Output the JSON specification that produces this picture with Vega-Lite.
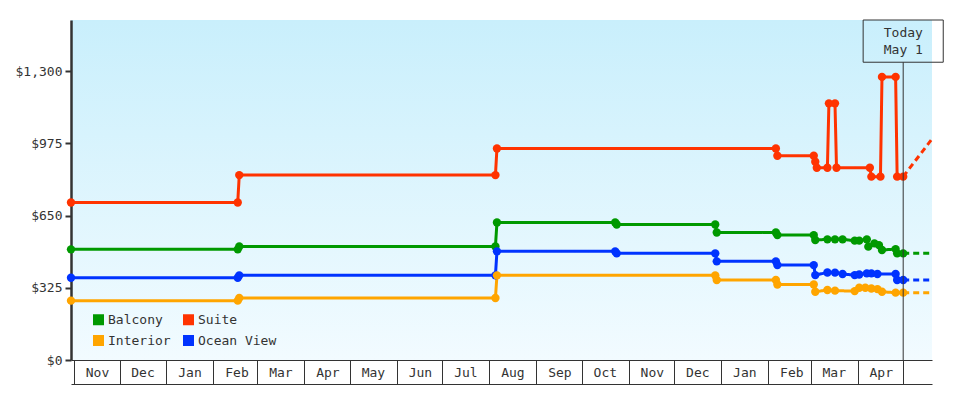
{
  "$schema": "https://vega.github.io/schema/vega-lite/v6.json",
  "autosize": "none",
  "width": 861,
  "height": 340,
  "padding": {"left": 71, "top": 20, "right": 48, "bottom": 40},
  "background": "#ffffff",
  "config": {
    "font": "DejaVu Sans Mono",
    "view": {
      "stroke": null,
      "fill": {
        "gradient": "linear",
        "x1": 0, "y1": 0, "x2": 0, "y2": 1,
        "stops": [
          {"offset": 0, "color": "#c9effc"},
          {"offset": 1, "color": "#f2fbff"}
        ]
      }
    },
    "axis": {
      "labelFont": "DejaVu Sans Mono",
      "labelFontSize": 13,
      "labelColor": "#333333",
      "grid": false,
      "domainColor": "#333333",
      "tickColor": "#333333"
    }
  },
  "datasets": {
    "prices": [
      {"cabin": "Suite", "date": "2023-10-30", "price": 709, "series": "actual"},
      {"cabin": "Suite", "date": "2024-02-17", "price": 709, "series": "actual"},
      {"cabin": "Suite", "date": "2024-02-18", "price": 832, "series": "actual"},
      {"cabin": "Suite", "date": "2024-08-05", "price": 832, "series": "actual"},
      {"cabin": "Suite", "date": "2024-08-06", "price": 952, "series": "actual"},
      {"cabin": "Suite", "date": "2025-02-06", "price": 952, "series": "actual"},
      {"cabin": "Suite", "date": "2025-02-07", "price": 919, "series": "actual"},
      {"cabin": "Suite", "date": "2025-03-03", "price": 919, "series": "actual"},
      {"cabin": "Suite", "date": "2025-03-04", "price": 892, "series": "actual"},
      {"cabin": "Suite", "date": "2025-03-05", "price": 865, "series": "actual"},
      {"cabin": "Suite", "date": "2025-03-12", "price": 865, "series": "actual"},
      {"cabin": "Suite", "date": "2025-03-13", "price": 1155, "series": "actual"},
      {"cabin": "Suite", "date": "2025-03-17", "price": 1155, "series": "actual"},
      {"cabin": "Suite", "date": "2025-03-18", "price": 865, "series": "actual"},
      {"cabin": "Suite", "date": "2025-04-09", "price": 865, "series": "actual"},
      {"cabin": "Suite", "date": "2025-04-10", "price": 825, "series": "actual"},
      {"cabin": "Suite", "date": "2025-04-16", "price": 825, "series": "actual"},
      {"cabin": "Suite", "date": "2025-04-17", "price": 1274, "series": "actual"},
      {"cabin": "Suite", "date": "2025-04-26", "price": 1274, "series": "actual"},
      {"cabin": "Suite", "date": "2025-04-27", "price": 825, "series": "actual"},
      {"cabin": "Suite", "date": "2025-05-01", "price": 825, "series": "actual"},
      {"cabin": "Suite", "date": "2025-05-01", "price": 825, "series": "forecast"},
      {"cabin": "Suite", "date": "2025-05-20", "price": 995, "series": "forecast"},

      {"cabin": "Balcony", "date": "2023-10-30", "price": 498, "series": "actual"},
      {"cabin": "Balcony", "date": "2024-02-17", "price": 498, "series": "actual"},
      {"cabin": "Balcony", "date": "2024-02-18", "price": 511, "series": "actual"},
      {"cabin": "Balcony", "date": "2024-08-05", "price": 511, "series": "actual"},
      {"cabin": "Balcony", "date": "2024-08-06", "price": 619, "series": "actual"},
      {"cabin": "Balcony", "date": "2024-10-23", "price": 619, "series": "actual"},
      {"cabin": "Balcony", "date": "2024-10-24", "price": 610, "series": "actual"},
      {"cabin": "Balcony", "date": "2024-12-28", "price": 610, "series": "actual"},
      {"cabin": "Balcony", "date": "2024-12-29", "price": 574, "series": "actual"},
      {"cabin": "Balcony", "date": "2025-02-06", "price": 574, "series": "actual"},
      {"cabin": "Balcony", "date": "2025-02-07", "price": 562, "series": "actual"},
      {"cabin": "Balcony", "date": "2025-03-03", "price": 562, "series": "actual"},
      {"cabin": "Balcony", "date": "2025-03-04", "price": 540, "series": "actual"},
      {"cabin": "Balcony", "date": "2025-03-12", "price": 543, "series": "actual"},
      {"cabin": "Balcony", "date": "2025-03-17", "price": 543, "series": "actual"},
      {"cabin": "Balcony", "date": "2025-03-22", "price": 543, "series": "actual"},
      {"cabin": "Balcony", "date": "2025-03-30", "price": 537, "series": "actual"},
      {"cabin": "Balcony", "date": "2025-04-02", "price": 537, "series": "actual"},
      {"cabin": "Balcony", "date": "2025-04-07", "price": 543, "series": "actual"},
      {"cabin": "Balcony", "date": "2025-04-08", "price": 510, "series": "actual"},
      {"cabin": "Balcony", "date": "2025-04-12", "price": 525, "series": "actual"},
      {"cabin": "Balcony", "date": "2025-04-15", "price": 517, "series": "actual"},
      {"cabin": "Balcony", "date": "2025-04-17", "price": 495, "series": "actual"},
      {"cabin": "Balcony", "date": "2025-04-26", "price": 499, "series": "actual"},
      {"cabin": "Balcony", "date": "2025-04-27", "price": 480, "series": "actual"},
      {"cabin": "Balcony", "date": "2025-05-01", "price": 480, "series": "actual"},
      {"cabin": "Balcony", "date": "2025-05-01", "price": 480, "series": "forecast"},
      {"cabin": "Balcony", "date": "2025-05-20", "price": 480, "series": "forecast"},

      {"cabin": "Ocean View", "date": "2023-10-30", "price": 370, "series": "actual"},
      {"cabin": "Ocean View", "date": "2024-02-17", "price": 370, "series": "actual"},
      {"cabin": "Ocean View", "date": "2024-02-18", "price": 381, "series": "actual"},
      {"cabin": "Ocean View", "date": "2024-08-05", "price": 381, "series": "actual"},
      {"cabin": "Ocean View", "date": "2024-08-06", "price": 489, "series": "actual"},
      {"cabin": "Ocean View", "date": "2024-10-23", "price": 489, "series": "actual"},
      {"cabin": "Ocean View", "date": "2024-10-24", "price": 480, "series": "actual"},
      {"cabin": "Ocean View", "date": "2024-12-28", "price": 480, "series": "actual"},
      {"cabin": "Ocean View", "date": "2024-12-29", "price": 444, "series": "actual"},
      {"cabin": "Ocean View", "date": "2025-02-06", "price": 444, "series": "actual"},
      {"cabin": "Ocean View", "date": "2025-02-07", "price": 427, "series": "actual"},
      {"cabin": "Ocean View", "date": "2025-03-03", "price": 427, "series": "actual"},
      {"cabin": "Ocean View", "date": "2025-03-04", "price": 382, "series": "actual"},
      {"cabin": "Ocean View", "date": "2025-03-12", "price": 394, "series": "actual"},
      {"cabin": "Ocean View", "date": "2025-03-17", "price": 393, "series": "actual"},
      {"cabin": "Ocean View", "date": "2025-03-22", "price": 387, "series": "actual"},
      {"cabin": "Ocean View", "date": "2025-03-30", "price": 382, "series": "actual"},
      {"cabin": "Ocean View", "date": "2025-04-02", "price": 385, "series": "actual"},
      {"cabin": "Ocean View", "date": "2025-04-07", "price": 390, "series": "actual"},
      {"cabin": "Ocean View", "date": "2025-04-10", "price": 390, "series": "actual"},
      {"cabin": "Ocean View", "date": "2025-04-14", "price": 387, "series": "actual"},
      {"cabin": "Ocean View", "date": "2025-04-26", "price": 387, "series": "actual"},
      {"cabin": "Ocean View", "date": "2025-04-27", "price": 360, "series": "actual"},
      {"cabin": "Ocean View", "date": "2025-05-01", "price": 360, "series": "actual"},
      {"cabin": "Ocean View", "date": "2025-05-01", "price": 360, "series": "forecast"},
      {"cabin": "Ocean View", "date": "2025-05-20", "price": 360, "series": "forecast"},

      {"cabin": "Interior", "date": "2023-10-30", "price": 267, "series": "actual"},
      {"cabin": "Interior", "date": "2024-02-17", "price": 267, "series": "actual"},
      {"cabin": "Interior", "date": "2024-02-18", "price": 279, "series": "actual"},
      {"cabin": "Interior", "date": "2024-08-05", "price": 279, "series": "actual"},
      {"cabin": "Interior", "date": "2024-08-06", "price": 381, "series": "actual"},
      {"cabin": "Interior", "date": "2024-12-28", "price": 381, "series": "actual"},
      {"cabin": "Interior", "date": "2024-12-29", "price": 360, "series": "actual"},
      {"cabin": "Interior", "date": "2025-02-06", "price": 360, "series": "actual"},
      {"cabin": "Interior", "date": "2025-02-07", "price": 340, "series": "actual"},
      {"cabin": "Interior", "date": "2025-03-03", "price": 340, "series": "actual"},
      {"cabin": "Interior", "date": "2025-03-04", "price": 307, "series": "actual"},
      {"cabin": "Interior", "date": "2025-03-12", "price": 315, "series": "actual"},
      {"cabin": "Interior", "date": "2025-03-17", "price": 312, "series": "actual"},
      {"cabin": "Interior", "date": "2025-03-30", "price": 310, "series": "actual"},
      {"cabin": "Interior", "date": "2025-04-02", "price": 325, "series": "actual"},
      {"cabin": "Interior", "date": "2025-04-06", "price": 325, "series": "actual"},
      {"cabin": "Interior", "date": "2025-04-10", "price": 322, "series": "actual"},
      {"cabin": "Interior", "date": "2025-04-14", "price": 319, "series": "actual"},
      {"cabin": "Interior", "date": "2025-04-17", "price": 307, "series": "actual"},
      {"cabin": "Interior", "date": "2025-04-26", "price": 303, "series": "actual"},
      {"cabin": "Interior", "date": "2025-05-01", "price": 303, "series": "actual"},
      {"cabin": "Interior", "date": "2025-05-01", "price": 303, "series": "forecast"},
      {"cabin": "Interior", "date": "2025-05-20", "price": 303, "series": "forecast"}
    ],
    "today": [
      {"note": "Today", "day": "May 1", "date": "2025-05-01"}
    ]
  },
  "layer": [
    {
      "data": {"name": "prices"},
      "mark": {"type": "line", "strokeWidth": 3},
      "encoding": {
        "x": {
          "field": "date",
          "type": "temporal",
          "title": null,
          "scale": {
            "type": "utc",
            "domain": [
              {"year": 2023, "month": 10, "date": 30, "utc": true},
              {"year": 2025, "month": 5, "date": 20, "utc": true}
            ]
          },
          "axis": {
            "tickCount": {"interval": "month", "step": 1},
            "tickSize": 24,
            "tickWidth": 1,
            "domainWidth": 1,
            "labelAlign": "center",
            "labelOffset": 23,
            "labelPadding": -18,
            "labelFlush": false,
            "labelBound": false,
            "labelOverlap": false,
            "labelExpr": "datum.value >= utc(2025, 4, 1) ? '' : utcFormat(datum.value, '%b')"
          }
        },
        "y": {
          "field": "price",
          "type": "quantitative",
          "title": null,
          "scale": {"domain": [0, 1530], "nice": false},
          "axis": {
            "values": [0, 325, 650, 975, 1300],
            "format": "$,d",
            "tickSize": 6,
            "tickWidth": 2,
            "domainWidth": 2.5,
            "labelPadding": 3
          }
        },
        "color": {
          "field": "cabin",
          "type": "nominal",
          "scale": {
            "domain": ["Balcony", "Interior", "Suite", "Ocean View"],
            "range": ["#009900", "#ffa500", "#ff3300", "#0033ff"]
          },
          "legend": {
            "orient": "none",
            "legendX": 21,
            "legendY": 293,
            "columns": 2,
            "title": null,
            "symbolType": "square",
            "symbolSize": 121,
            "symbolStrokeWidth": 0,
            "labelFont": "DejaVu Sans Mono",
            "labelFontSize": 13,
            "labelColor": "#333333",
            "labelOffset": 3,
            "rowPadding": 7,
            "columnPadding": 11,
            "padding": 0,
            "encode": {
              "symbols": {
                "update": {
                  "fill": {"field": "value", "scale": "color"},
                  "stroke": {"value": "transparent"},
                  "opacity": {"value": 1}
                }
              }
            }
          }
        },
        "strokeDash": {
          "field": "series",
          "type": "nominal",
          "scale": {"domain": ["actual", "forecast"], "range": [[1, 0], [6, 4]]},
          "legend": null
        }
      }
    },
    {
      "data": {"name": "prices"},
      "transform": [{"filter": "datum.series === 'actual'"}],
      "mark": {"type": "point", "filled": true, "shape": "circle", "size": 70, "opacity": 1},
      "encoding": {
        "x": {
          "field": "date",
          "type": "temporal",
          "title": null,
          "axis": {
            "orient": "bottom",
            "offset": 24,
            "labels": false,
            "ticks": false,
            "domain": true,
            "domainWidth": 1
          }
        },
        "y": {"field": "price", "type": "quantitative", "title": null},
        "color": {"field": "cabin", "type": "nominal"}
      }
    },
    {
      "data": {"name": "today"},
      "mark": {"type": "rule", "color": "#333333", "strokeWidth": 1},
      "encoding": {
        "x": {"field": "date", "type": "temporal", "axis": null},
        "y": {"datum": 0, "type": "quantitative", "title": null},
        "y2": {"datum": 1340}
      }
    },
    {
      "data": {"name": "today"},
      "mark": {"type": "rect", "fill": null, "fillOpacity": 0, "stroke": "#333333", "strokeWidth": 1},
      "encoding": {
        "x": {"datum": {"year": 2025, "month": 4, "date": 4, "hours": 14, "utc": true}, "type": "temporal", "axis": null},
        "x2": {"datum": {"year": 2025, "month": 5, "date": 27, "hours": 10, "utc": true}},
        "y": {"datum": 1530, "type": "quantitative", "title": null},
        "y2": {"datum": 1340}
      }
    },
    {
      "data": {"name": "today"},
      "mark": {"type": "text", "align": "right", "baseline": "middle", "font": "DejaVu Sans Mono", "fontSize": 13, "color": "#333333"},
      "encoding": {
        "x": {"datum": {"year": 2025, "month": 5, "date": 14, "utc": true}, "type": "temporal", "axis": null},
        "y": {"datum": 1472, "type": "quantitative", "title": null},
        "text": {"field": "note"}
      }
    },
    {
      "data": {"name": "today"},
      "mark": {"type": "text", "align": "right", "baseline": "middle", "font": "DejaVu Sans Mono", "fontSize": 13, "color": "#333333"},
      "encoding": {
        "x": {"datum": {"year": 2025, "month": 5, "date": 14, "utc": true}, "type": "temporal", "axis": null},
        "y": {"datum": 1394, "type": "quantitative", "title": null},
        "text": {"field": "day"}
      }
    }
  ],
  "resolve": {"axis": {"x": "independent"}}
}
